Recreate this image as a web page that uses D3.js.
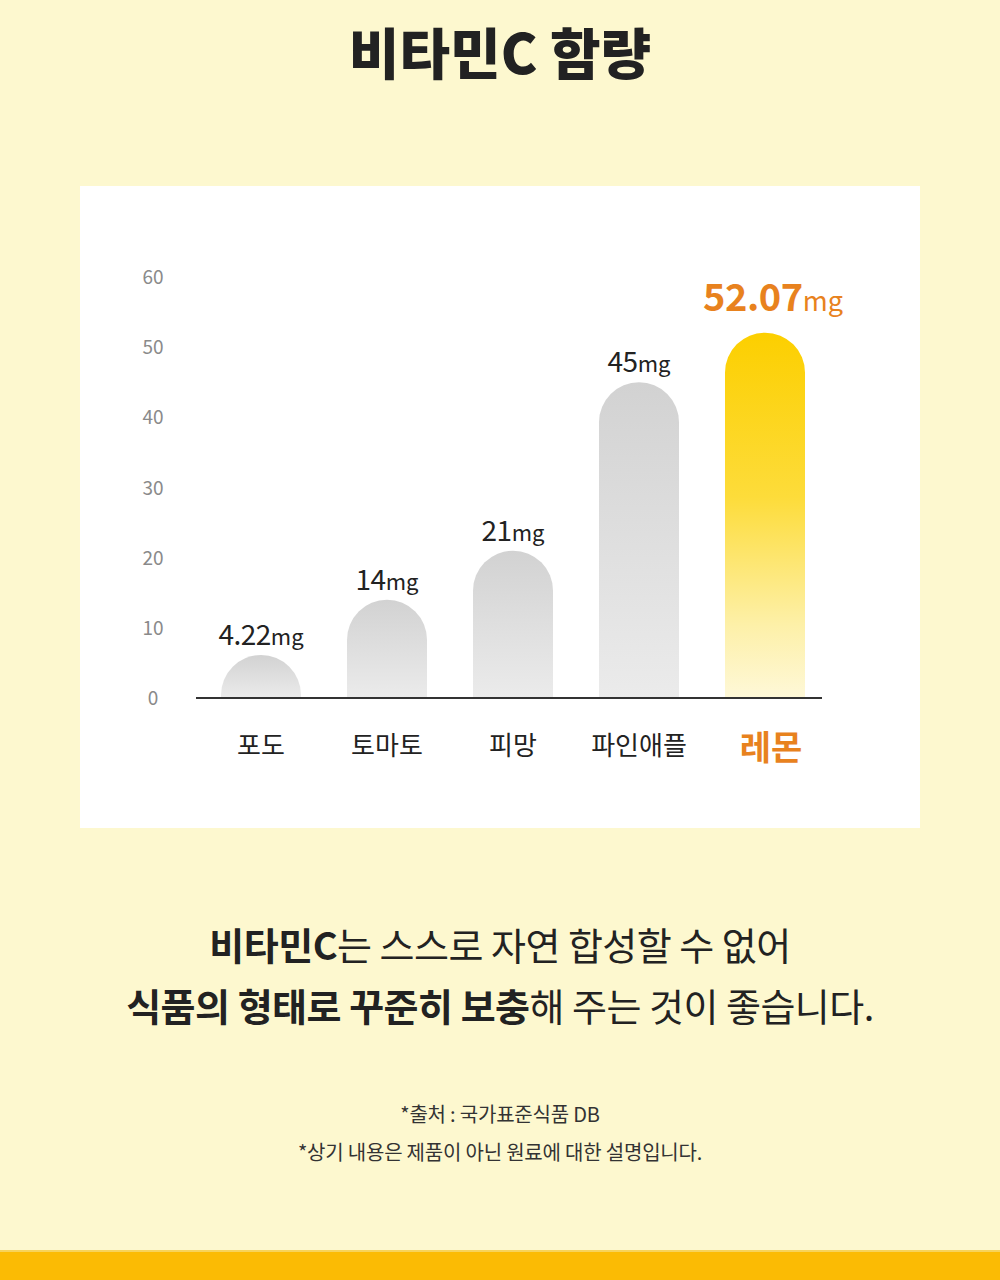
<!DOCTYPE html>
<html>
<head>
<meta charset="utf-8">
<script src="https://cdn.jsdelivr.net/npm/d3@7"></script>
<style>
  html, body { margin: 0; padding: 0; background: #fdf8cf; }
  svg { display: block; font-family: "Noto Sans CJK KR", "Noto Sans", sans-serif; }
</style>
</head>
<body>
<svg id="chart"></svg>
<script>
// values
const categories = ["포도", "토마토", "피망", "파인애플", "레몬"];
const values = [4.22, 14, 21, 45, 52.07];
const valueText = ["4.22", "14", "21", "45", "52.07"];
const unit = "mg";
const yTicks = [0, 10, 20, 30, 40, 50, 60];
const highlight = "레몬";

const W = 1000, H = 1280;
const svg = d3.select("#chart").attr("width", W).attr("height", H);

svg.append("rect").attr("width", W).attr("height", H).attr("fill", "#fdf8cf");

// title
svg.append("text")
  .attr("x", 500).attr("y", 74)
  .attr("text-anchor", "middle")
  .attr("font-size", 55).attr("font-weight", 900)
  .attr("fill", "#222")
  .text("비타민C 함량");

// white panel
svg.append("rect")
  .attr("x", 80).attr("y", 186).attr("width", 840).attr("height", 642)
  .attr("fill", "#fff");

const x = d3.scaleBand()
  .domain(categories)
  .range([198, 828])
  .paddingInner(0.365)
  .paddingOuter(0.1825);

const y = d3.scaleLinear().domain([0, 60]).range([698, 277]);

const defs = svg.append("defs");
let gGray = defs.append("linearGradient").attr("id", "gray").attr("x1", 0).attr("y1", 0).attr("x2", 0).attr("y2", 1);
gGray.append("stop").attr("offset", "0%").attr("stop-color", "#d2d2d2");
gGray.append("stop").attr("offset", "100%").attr("stop-color", "#ebebeb");

let gLemon = defs.append("linearGradient").attr("id", "lemon").attr("x1", 0).attr("y1", 0).attr("x2", 0).attr("y2", 1);
gLemon.append("stop").attr("offset", "0%").attr("stop-color", "#fccf00");
gLemon.append("stop").attr("offset", "45%").attr("stop-color", "#fddc3a");
gLemon.append("stop").attr("offset", "80%").attr("stop-color", "#fdf0a8");
gLemon.append("stop").attr("offset", "100%").attr("stop-color", "#fef8d8");

// y tick labels
svg.append("g").selectAll("text")
  .data(yTicks)
  .join("text")
  .attr("x", 153)
  .attr("y", d => y(d) + 7)
  .attr("text-anchor", "middle")
  .attr("font-size", 19)
  .attr("fill", "#8a8a8a")
  .text(d => d);

// bars with round tops
const r = x.bandwidth() / 2;
const minBarH = 43;
function barTop(v) {
  return Math.min(y(v), y(0) - minBarH);
}
function barPath(d, i) {
  let x0 = x(d), w = x.bandwidth();
  let top = barTop(values[i]);
  let base = y(0);
  return `M${x0},${base} L${x0},${top + r} A${r},${r} 0 0 1 ${x0 + w},${top + r} L${x0 + w},${base} Z`;
}

svg.append("g").selectAll("path")
  .data(categories)
  .join("path")
  .attr("d", barPath)
  .attr("fill", d => d === highlight ? "url(#lemon)" : "url(#gray)");

// baseline
svg.append("line")
  .attr("x1", 196).attr("x2", 822)
  .attr("y1", y(0)).attr("y2", y(0))
  .attr("stroke", "#333").attr("stroke-width", 2);

// value labels
categories.forEach((c, i) => {
  let hi = c === highlight;
  let t = svg.append("text")
    .attr("x", x(c) + x.bandwidth() / 2 + (hi ? 8 : 0))
    .attr("y", barTop(values[i]) - (hi ? 22 : 10))
    .attr("text-anchor", "middle")
    .attr("fill", hi ? "#e8821e" : "#222");
  t.append("tspan")
    .attr("font-size", hi ? 38 : 28)
    .attr("font-weight", hi ? 700 : 400)
    .attr("letter-spacing", -0.5)
    .text(valueText[i]);
  t.append("tspan")
    .attr("font-size", hi ? 27 : 22)
    .text(unit);
});

// category labels
svg.append("g").selectAll("text")
  .data(categories)
  .join("text")
  .attr("x", d => x(d) + x.bandwidth() / 2 + (d === highlight ? 6 : 0))
  .attr("y", d => d === highlight ? 760 : 755)
  .attr("text-anchor", "middle")
  .attr("font-size", d => d === highlight ? 34 : 26)
  .attr("font-weight", d => d === highlight ? 700 : 400)
  .attr("fill", d => d === highlight ? "#e8821e" : "#222")
  .text(d => d);

// message
const lines = [
  [["비타민C", 700], ["는 스스로 자연 합성할 수 없어", 400]],
  [["식품의 형태로 꾸준히 보충", 700], ["해 주는 것이 좋습니다.", 400]]
];
lines.forEach((parts, i) => {
  let t = svg.append("text")
    .attr("x", 500).attr("y", 960 + i * 61)
    .attr("text-anchor", "middle")
    .attr("font-size", 38)
    .attr("letter-spacing", -0.5)
    .attr("fill", "#222");
  parts.forEach(p => t.append("tspan").attr("font-weight", p[1]).text(p[0]));
});

// notes
const notes = ["*출처 : 국가표준식품 DB", "*상기 내용은 제품이 아닌 원료에 대한 설명입니다."];
svg.append("g").selectAll("text")
  .data(notes)
  .join("text")
  .attr("x", 500)
  .attr("y", (d, i) => 1122 + i * 38)
  .attr("text-anchor", "middle")
  .attr("font-size", 20)
  .attr("letter-spacing", -0.2)
  .attr("fill", "#333")
  .text(d => d);

// bottom band
svg.append("rect").attr("x", 0).attr("y", 1250).attr("width", W).attr("height", 30).attr("fill", "#fbbb04");
svg.append("rect").attr("x", 0).attr("y", 1250).attr("width", W).attr("height", 2).attr("fill", "#f7d35a");
</script>
</body>
</html>
